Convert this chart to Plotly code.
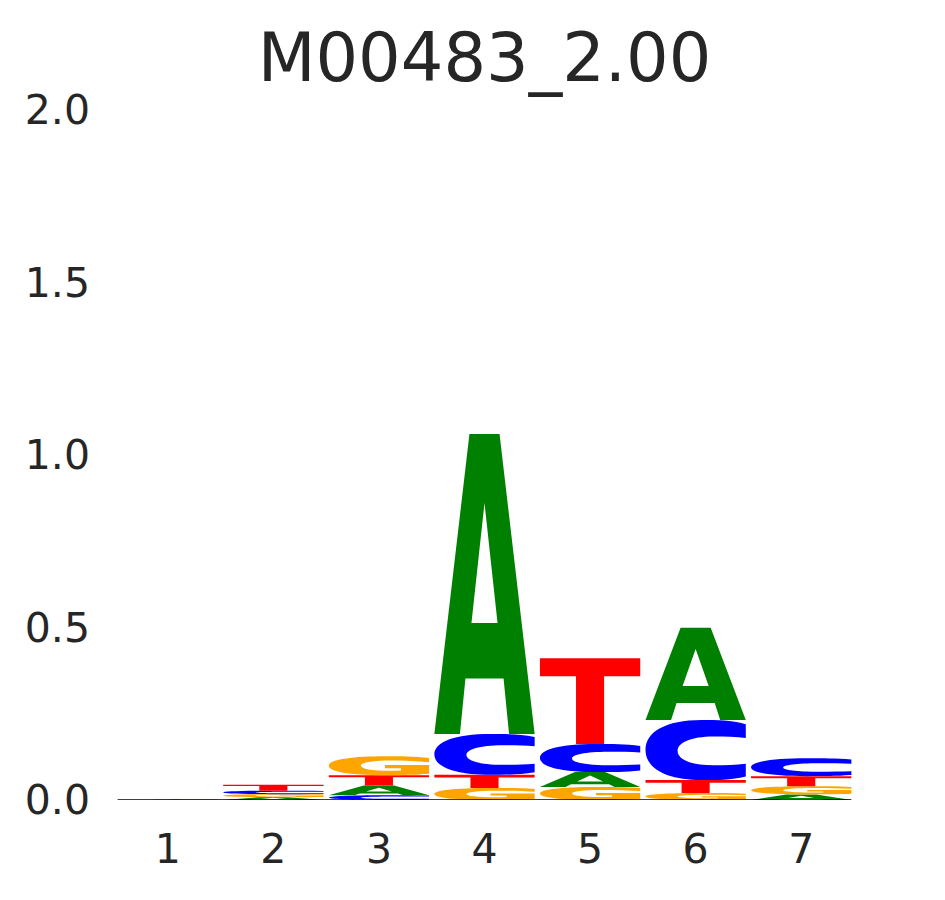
import plotly.graph_objects as go

# ---------------- data ----------------
title_text = "M00483_2.00"
positions = [1, 2, 3, 4, 5, 6, 7]
A_vals = [0.0003, 0.008, 0.028, 0.870, 0.043, 0.267, 0.016]
C_vals = [0.0003, 0.010, 0.014, 0.118, 0.081, 0.174, 0.052]
G_vals = [0.0003, 0.009, 0.055, 0.035, 0.038, 0.020, 0.024]
T_vals = [0.0003, 0.017, 0.030, 0.038, 0.249, 0.038, 0.029]
y_ticks = [0.0, 0.5, 1.0, 1.5, 2.0]
y_ticklabels = ["0.0", "0.5", "1.0", "1.5", "2.0"]

colors = {"A": "#008000", "C": "#0000ff", "G": "#ffa500", "T": "#ff0000"}
letter_width = 0.95

# glyph outlines in a unit box (x right, y up)
glyphs = {
    "A": [
        ("M", [(0.0, 0.0)]), ("L", [(0.35, 1.0)]), ("L", [(0.65, 1.0)]), ("L", [(1.0, 0.0)]),
        ("L", [(0.745, 0.0)]), ("L", [(0.69, 0.185)]), ("L", [(0.31, 0.185)]), ("L", [(0.255, 0.0)]), ("Z", []),
        ("M", [(0.37, 0.37)]), ("L", [(0.63, 0.37)]), ("L", [(0.5, 0.77)]), ("Z", []),
    ],
    "T": [
        ("M", [(0.0, 1.0)]), ("L", [(1.0, 1.0)]), ("L", [(1.0, 0.79)]), ("L", [(0.64, 0.79)]),
        ("L", [(0.64, 0.0)]), ("L", [(0.36, 0.0)]), ("L", [(0.36, 0.79)]), ("L", [(0.0, 0.79)]), ("Z", []),
    ],
    "C": [
        ("M", [(1.0, 0.93)]),
        ("C", [(0.85, 1.0), (0.72, 1.0), (0.56, 1.0)]),
        ("C", [(0.2, 1.0), (0.0, 0.8), (0.0, 0.5)]),
        ("C", [(0.0, 0.2), (0.2, 0.0), (0.56, 0.0)]),
        ("C", [(0.72, 0.0), (0.85, 0.0), (1.0, 0.06)]),
        ("L", [(1.0, 0.27)]),
        ("C", [(0.9, 0.25), (0.8, 0.245), (0.68, 0.245)]),
        ("C", [(0.45, 0.245), (0.32, 0.35), (0.32, 0.485)]),
        ("C", [(0.32, 0.62), (0.45, 0.725), (0.68, 0.725)]),
        ("C", [(0.8, 0.725), (0.9, 0.72), (1.0, 0.70)]),
        ("Z", []),
    ],
    "G": [
        ("M", [(1.0, 0.91)]),
        ("C", [(0.85, 1.0), (0.72, 1.0), (0.56, 1.0)]),
        ("C", [(0.2, 1.0), (0.0, 0.8), (0.0, 0.5)]),
        ("C", [(0.0, 0.2), (0.2, 0.0), (0.56, 0.0)]),
        ("C", [(0.74, 0.0), (0.88, 0.03), (1.0, 0.08)]),
        ("L", [(1.0, 0.53)]),
        ("L", [(0.56, 0.53)]),
        ("L", [(0.56, 0.37)]),
        ("L", [(0.72, 0.37)]),
        ("L", [(0.72, 0.25)]),
        ("C", [(0.68, 0.235), (0.64, 0.23), (0.6, 0.23)]),
        ("C", [(0.43, 0.23), (0.32, 0.34), (0.32, 0.5)]),
        ("C", [(0.32, 0.66), (0.43, 0.77), (0.62, 0.77)]),
        ("C", [(0.76, 0.77), (0.88, 0.74), (1.0, 0.68)]),
        ("Z", []),
    ],
}


def glyph_path(letter, xc, y0, h, w):
    parts = []
    for cmd, pts in glyphs[letter]:
        if cmd == "Z":
            parts.append("Z")
            continue
        coords = " ".join(
            f"{xc - w / 2 + u * w:.5f},{y0 + v * h:.6f}" for (u, v) in pts
        )
        parts.append(f"{cmd} {coords}")
    return " ".join(parts)


values = {"A": A_vals, "C": C_vals, "G": G_vals, "T": T_vals}
shapes = []
for i, pos in enumerate(positions):
    stack = sorted(values.keys(), key=lambda L: values[L][i])
    base = 0.0
    for L in stack:
        h = values[L][i]
        shapes.append(dict(
            type="path", xref="x", yref="y",
            path=glyph_path(L, pos, base, h, letter_width),
            fillcolor=colors[L], line=dict(width=0), fillrule="evenodd",
            layer="below",
        ))
        base += h

fig = go.Figure()
# baseline
fig.add_trace(go.Scatter(
    x=[positions[0] - letter_width / 2, positions[-1] + letter_width / 2],
    y=[0, 0], mode="lines", line=dict(color="black", width=1.5),
    hoverinfo="skip", showlegend=False,
))

text_color = "#262626"
fig.update_layout(
    width=945, height=900,
    paper_bgcolor="white", plot_bgcolor="white",
    margin=dict(l=107, r=99, t=102, b=108),
    shapes=shapes,
    showlegend=False,
    title=dict(
        text=title_text, x=0.5, xref="paper", xanchor="center",
        y=1 - 50 / 900, yref="container", yanchor="middle",
        font=dict(family="DejaVu Sans", size=67, color=text_color),
    ),
    font=dict(family="DejaVu Sans", color=text_color),
)
fig.update_xaxes(
    range=[0.5, 7.5], tickmode="array", tickvals=positions,
    ticktext=[str(p) for p in positions],
    showgrid=False, zeroline=False, showline=False, ticks="",
    tickfont=dict(size=41, color=text_color), ticklabelstandoff=21,
    fixedrange=True,
)
fig.update_yaxes(
    range=[0, 2], tickmode="array", tickvals=y_ticks, ticktext=y_ticklabels,
    showgrid=False, zeroline=False, showline=False, ticks="",
    tickfont=dict(size=41, color=text_color), ticklabelstandoff=24,
    fixedrange=True,
)

fig.write_html("out.html")
